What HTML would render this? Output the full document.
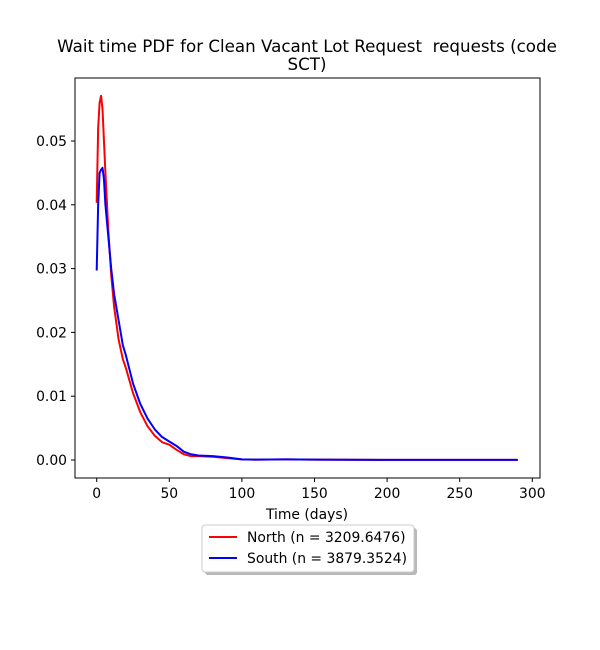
<!DOCTYPE html>
<html><head><meta charset="utf-8"><style>
body{margin:0;background:#fff}
svg{display:block;font-family:"DejaVu Sans","Liberation Sans",sans-serif}
</style></head><body>
<svg id="chart" width="600" height="650">
<text x="307" y="52" font-size="16.7" text-anchor="middle" xml:space="preserve" style="white-space:pre">Wait time PDF for Clean Vacant Lot Request  requests (code</text>
<text x="307" y="70" font-size="16.7" text-anchor="middle">SCT)</text>
<g id="plot"></g>
<rect x="75" y="78" width="465" height="400" fill="none" stroke="#000" stroke-width="1"/>
<text x="307" y="519" font-size="13.9" text-anchor="middle">Time (days)</text>
<g>
<rect x="205" y="528" width="212" height="47" rx="3" fill="#888" opacity="0.6"/>
<rect x="202" y="525" width="212" height="47" rx="3" fill="#fff" stroke="#ccc"/>
<line x1="209" y1="537" x2="237" y2="537" stroke="red" stroke-width="2"/>
<text x="247" y="542" font-size="13.9">North (n = 3209.6476)</text>
<line x1="209" y1="558" x2="237" y2="558" stroke="blue" stroke-width="2"/>
<text x="247" y="563" font-size="13.9">South (n = 3879.3524)</text>
</g>
</svg>
<script>
const days = [0,1,2,3,4,5,6,8,10,12,15,18,20,25,30,35,40,45,50,55,60,65,70,80,90,100,110,130,150,200,250,290];
const north = [0.0403,0.052,0.056,0.0571,0.055,0.050,0.045,0.036,0.029,0.024,0.019,0.0158,0.0145,0.0105,0.0075,0.0053,0.0038,0.0028,0.0024,0.0016,0.0009,0.0006,0.0006,0.0005,0.0003,0.0001,0.00005,0.0001,0.00005,0.00002,0.00002,0.00002];
const south = [0.0297,0.040,0.045,0.0455,0.0458,0.044,0.040,0.035,0.030,0.026,0.022,0.018,0.0165,0.012,0.0088,0.0065,0.0048,0.0036,0.0029,0.0022,0.0013,0.0009,0.0007,0.0006,0.0004,0.0001,0.00005,0.0001,0.00005,0.00002,0.00002,0.00002];
const xTicks = [0,50,100,150,200,250,300];
const yTicks = [0,0.01,0.02,0.03,0.04,0.05];
const yTickLabels = ["0.00","0.01","0.02","0.03","0.04","0.05"];
const X = d => 96.7 + d*1.452;
const Y = v => 460 - v*6380;
const ns = "http://www.w3.org/2000/svg";
const g = document.getElementById('plot');
function mk(t, a){const e=document.createElementNS(ns,t);for(const k in a)e.setAttribute(k,a[k]);g.appendChild(e);return e;}
xTicks.forEach(t=>{
  const l=mk('line',{x1:X(t),x2:X(t),y1:478,y2:482,stroke:'#000'});
  
  
  const tx=mk('text',{x:X(t),y:498,'font-size':13.9,'text-anchor':'middle'});tx.textContent=t;
  
  
});
yTicks.forEach((t,i)=>{
  const l=mk('line',{x1:71,x2:75,y1:Y(t),y2:Y(t),stroke:'#000'});
  
  
  const tx=mk('text',{x:67,y:Y(t)+5,'font-size':13.9,'text-anchor':'end'});tx.textContent=yTickLabels[i];
  
  
});
function line(vals,color,name){
  const p=mk('polyline',{points:days.map((d,i)=>X(d)+','+Y(vals[i])).join(' '),fill:'none',stroke:color,'stroke-width':2,'stroke-linejoin':'round'});
  
  
}
line(north,'red','north-line');
line(south,'blue','south-line');
</script>
</body></html>
